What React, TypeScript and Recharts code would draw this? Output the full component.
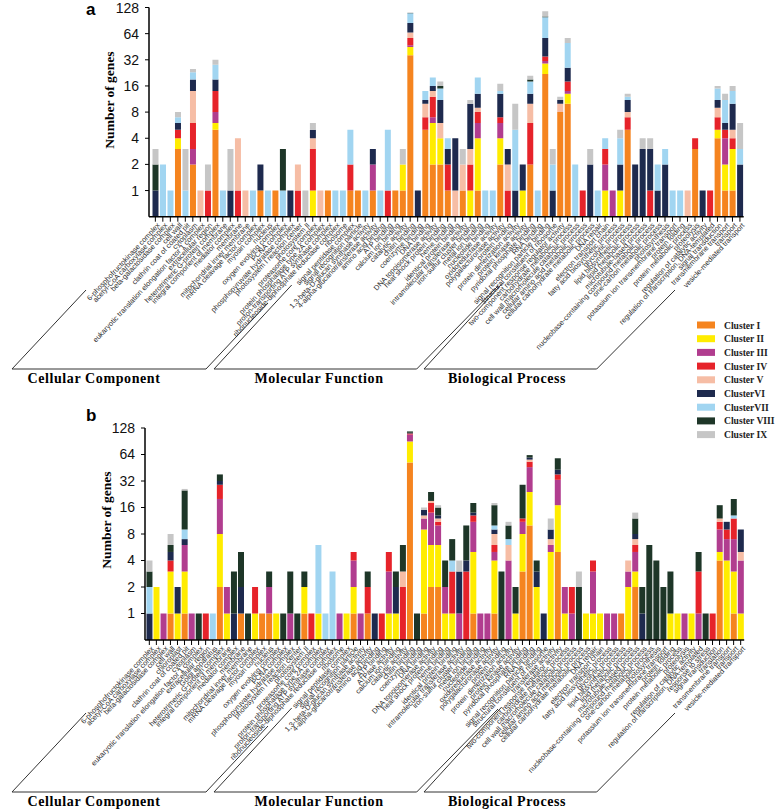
import React from "react";
import { BarChart, Bar, XAxis, YAxis } from "recharts";

const clusterNames = ["Cluster I", "Cluster II", "Cluster III", "Cluster IV", "Cluster V", "ClusterVI", "ClusterVII", "Cluster VIII", "Cluster IX"];
const clusterColors = ["#F5841F", "#FFEC00", "#B13D8F", "#E6232A", "#F6BDA5", "#1E2A4E", "#A1D5F1", "#1E3628", "#C6C6C6"];

const yTicks = [1, 2, 3, 4, 5, 6, 7, 8];
const yTickLabels = ["1", "2", "4", "8", "16", "32", "64", "128"];

// panel a categories
const labelsA = [
  "6-phosphofructokinase complex", "acetyl-CoA carboxylase complex", "beta-galactosidase complex", "cell wall",
  "clathrin coat of coated pit", "cytoplasm", "eukaryotic translation elongation factor 1 complex", "extracellular region",
  "heterotrimeric G-protein complex", "integral component of membrane", "mediator complex", "membrane",
  "mitochondrial inner membrane", "mRNA cleavage factor complex", "myosin complex", "nucleus",
  "oxygen evolving complex", "PCNA complex", "phosphopyruvate hydratase complex", "photosystem I reaction center",
  "photosystem II", "proteasome core complex", "protein phosphatase type 2A complex", "proton-transporting ATP synthase complex",
  "ribonucleoside-diphosphate reductase complex", "ribosome", "signal peptidase complex", "signal recognition particle",
  "1,3-beta-D-glucan synthase activity", "4-alpha-glucanotransferase activity", "amino acid binding", "ATP binding",
  "calcium ion binding", "catalytic activity", "chitin binding", "coenzyme binding", "DNA binding",
  "DNA topoisomerase activity", "heat shock protein binding", "heme binding", "identical protein binding",
  "intramolecular transferase activity", "iron-sulfur cluster binding", "metal ion binding", "nucleotide binding",
  "oxidoreductase activity", "polygalacturonase activity", "protein binding", "protein dimerization activity",
  "protein kinase activity", "pyridoxal phosphate binding", "RNA binding", "signal recognition particle binding",
  "structural constituent of ribosome", "two-component response regulator activity",
  "carbohydrate metabolic process", "cell wall macromolecule catabolic process", "cellular amino acid metabolic process",
  "cellular carbohydrate metabolic process", "DNA repair", "electron transport chain", "fatty acid biosynthetic process",
  "glycolytic process", "lipid biosynthetic process", "lipid metabolic process", "microtubule-based process",
  "nucleobase-containing compound metabolic process", "one-carbon metabolic process", "photosynthesis",
  "potassium ion transmembrane transport", "protein folding", "protein metabolic process", "proteolysis",
  "regulation of catalytic activity", "regulation of transcription, DNA-templated", "signal transduction",
  "transmembrane transport", "transport", "vesicle-mediated transport",
];

const aI = [0,0,0,3,0,2,0,0,5,0, 0,0,0,0,1,0,1,0,0,0, 0,0,0,1,0,0,1,1,0,1, 0,0,1,1,36,0,5,2,2,1, 0,1,0,1,0,0,2,0,0,0, 2,0,22,0,8,10,0,0,0,0, 0,0,0,5,0,0,0,0,0,0, 0,0,3,0,0,4,1,1,0];
const aII = [0,0,0,1,0,0,0,0,1,0, 0,0,0,0,0,0,0,0,0,0, 0,1,0,0,0,0,0,0,0,0, 0,0,0,1,9,0,0,4,2,0, 0,0,1,3,0,0,2,0,0,1, 0,0,7,0,0,3,0,0,0,0, 1,0,1,0,0,0,0,0,0,0, 0,0,0,0,0,1,1,2,0];
const aIII = [0,0,0,0,0,1,0,0,2,0, 0,0,0,0,0,0,0,0,0,0, 0,0,0,0,0,0,0,0,0,1, 0,0,0,0,2,0,0,1,0,0, 0,0,0,2,0,0,2,0,0,0, 0,0,2,0,0,1,0,0,0,0, 1,1,0,0,0,0,0,0,0,0, 0,0,0,0,0,0,2,0,0];
const aIV = [0,0,0,1,0,3,0,1,6,0, 0,1,0,0,0,0,0,0,0,1, 0,2,0,0,0,0,1,0,0,0, 0,1,0,0,10,0,2,5,0,1, 0,0,1,2,0,0,1,1,0,0, 4,0,4,0,0,4,0,1,0,0, 1,0,0,2,0,0,1,0,0,0, 0,0,1,0,1,2,1,1,0];
const aV = [0,0,0,0,0,8,1,0,0,0, 0,3,1,0,0,0,0,0,0,1, 0,1,1,0,0,0,0,0,0,0, 0,0,0,0,9,0,3,2,2,0, 1,1,1,1,0,0,0,1,0,0, 4,0,0,0,2,0,0,0,0,0, 0,0,0,1,0,0,0,0,0,0, 0,1,0,0,0,2,0,1,0];
const aVI = [1,0,0,1,0,5,0,0,5,0, 1,0,0,0,1,0,0,0,1,0, 0,1,0,0,0,0,0,0,0,1, 0,0,0,0,19,1,1,2,5,1, 3,0,7,4,0,0,6,1,1,1, 3,0,22,1,1,8,0,0,2,0, 0,0,1,3,2,3,2,1,2,0, 0,0,0,1,0,2,1,5,2];
const aVII = [0,2,1,1,1,4,0,0,9,1, 0,0,0,1,0,1,0,1,0,0, 0,0,0,0,1,1,3,0,1,0, 1,4,0,0,25,0,3,4,4,1, 0,0,0,7,1,1,1,0,4,0, 5,1,42,1,0,24,2,0,0,1, 1,0,2,1,0,0,0,1,1,1, 1,0,0,0,0,4,5,4,1];
const aVIII = [1,0,0,0,0,0,0,0,0,0, 0,0,0,0,0,0,0,2,0,0, 0,0,0,0,0,0,0,0,0,0, 0,0,0,0,1,0,0,0,1,0, 0,0,0,0,0,0,0,0,0,0, 1,0,2,0,0,0,0,0,0,0, 0,0,0,0,0,0,0,0,0,0, 0,0,0,0,0,0,0,0,0];
const aIX = [1,0,0,1,2,2,0,1,4,0, 2,0,0,0,0,0,0,0,0,0, 1,1,0,0,0,0,0,0,0,0, 0,0,0,1,1,0,0,0,2,0, 0,1,1,0,0,0,3,0,5,0, 2,0,15,1,1,7,0,0,1,0, 0,0,1,1,0,1,1,0,0,0, 0,0,0,0,0,1,2,2,3];

// panel b categories
const labelsB = [
  "6-phosphofructokinase complex", "acetyl-CoA carboxylase complex", "beta-galactosidase complex", "cell wall",
  "chloroplast", "clathrin coat of coated pit", "cytoplasm", "eukaryotic translation elongation factor 1 complex",
  "extracellular region", "Golgi apparatus", "heterotrimeric G-protein complex", "integral component of membrane",
  "mediator complex", "membrane", "mitochondrial inner membrane", "mRNA cleavage factor complex", "myosin complex",
  "nucleus", "oxygen evolving complex", "PCNA complex", "phosphopyruvate hydratase complex",
  "photosystem I reaction center", "photosystem II", "proteasome core complex", "protein phosphatase type 2A complex",
  "proton-transporting ATP synthase complex", "ribonucleoside-diphosphate reductase complex", "ribosome",
  "signal peptidase complex", "signal recognition particle",
  "1,3-beta-D-glucan synthase activity", "4-alpha-glucanotransferase activity", "amino acid binding", "ATP binding",
  "ATPase activity", "calcium ion binding", "catalytic activity", "chitin binding", "coenzyme binding", "DNA binding",
  "DNA topoisomerase activity", "heat shock protein binding", "heme binding", "identical protein binding",
  "intramolecular transferase activity", "iron-sulfur cluster binding", "metal ion binding", "nucleotide binding",
  "oxidoreductase activity", "polygalacturonase activity", "protein binding", "protein dimerization activity",
  "protein kinase activity", "pyridoxal phosphate binding", "RNA binding", "signal recognition particle binding",
  "structural constituent of ribosome", "transferase activity", "two-component response regulator activity",
  "carbohydrate metabolic process", "cell wall macromolecule catabolic process", "cellular amino acid metabolic process",
  "cellular carbohydrate metabolic process", "DNA repair", "electron transport chain", "fatty acid biosynthetic process",
  "glycolytic process", "lipid biosynthetic process", "lipid metabolic process", "microtubule-based process",
  "nucleobase-containing compound metabolic process", "one-carbon metabolic process", "photosynthesis",
  "potassium ion transmembrane transport", "protein folding", "protein metabolic process", "proteolysis",
  "regulation of catalytic activity", "regulation of transcription, DNA-templated", "response to stress",
  "signal transduction", "translation", "transmembrane transport", "transport", "vesicle-mediated transport",
];

const bI = [0,0,0,1,0,1,0,0,0,0, 2,0,0,1,0,0,1,1,0,0, 0,0,1,0,0,0,0,0,0,1, 0,1,0,0,0,0,0,52,0,1, 2,2,0,0,0,0,1,0,0,1, 0,0,0,3,10,0,0,0,5,0, 0,0,0,0,0,0,0,1,0,2, 0,0,0,0,0,0,0,0,0,0, 0,4,0,1,0];
const bII = [0,2,0,2,1,2,0,0,0,0, 6,1,0,0,0,1,0,0,1,0, 0,0,1,0,1,0,0,0,1,1, 0,0,0,0,1,1,0,38,0,8, 4,4,1,1,0,0,4,0,0,3, 0,0,1,5,14,2,0,5,12,1, 0,0,1,1,1,0,0,0,2,1, 0,0,0,0,1,1,0,1,0,0, 0,1,4,2,1];
const bIII = [0,0,1,0,0,3,1,0,0,0, 12,1,0,0,0,0,0,1,0,0, 1,0,0,0,0,0,0,1,0,2, 1,0,0,0,2,0,0,18,0,3, 8,4,1,0,1,0,6,1,1,1, 0,4,0,3,22,0,0,1,16,1, 1,0,0,2,0,1,1,0,1,2, 0,0,0,0,0,0,1,0,1,0, 0,4,3,4,3];
const bIV = [0,0,0,1,0,0,0,0,1,0, 9,0,0,0,0,1,0,0,0,0, 0,0,0,1,0,0,0,0,0,1, 0,1,0,1,2,0,2,3,0,0, 4,1,0,2,0,3,2,0,0,1, 0,0,0,1,7,0,0,0,5,0, 1,0,0,1,0,0,0,0,0,1, 0,0,0,0,0,0,0,0,2,0, 1,2,2,5,0];
const bV = [0,0,0,0,0,0,0,0,0,0, 0,0,0,0,0,0,0,0,0,0, 0,0,0,0,0,0,0,0,0,0, 0,0,0,0,0,0,1,0,0,1, 1,1,0,0,0,0,0,0,0,2, 0,2,0,0,3,0,0,1,0,0, 0,0,0,0,0,0,0,0,1,1, 0,0,0,0,0,0,0,0,0,0, 0,1,0,0,1];
const bVI = [1,0,0,1,1,1,0,0,0,0, 3,0,1,1,0,0,0,0,0,0, 0,0,0,0,0,0,0,0,0,0, 0,0,1,0,0,1,0,2,0,2, 0,1,0,0,2,1,1,0,0,1, 0,0,0,0,3,1,1,2,5,0, 0,0,0,0,0,0,0,0,0,1, 1,0,0,0,0,0,0,0,0,0, 0,0,2,0,4];
const bVII = [1,0,0,0,0,2,0,0,0,1, 0,0,0,0,0,0,0,0,0,0, 0,0,0,0,5,1,3,0,0,0, 0,0,0,0,0,0,0,0,0,0, 0,0,0,1,0,0,0,0,0,1, 0,1,0,0,0,0,0,0,0,0, 0,0,0,0,0,0,0,0,0,0, 0,0,0,0,0,0,0,0,0,0, 0,0,0,1,0];
const bVIII = [1,0,0,1,0,16,0,1,0,0, 6,0,2,3,1,0,0,1,0,1, 2,1,1,0,0,0,0,0,0,0, 0,1,0,0,0,1,3,4,1,0, 5,3,2,3,0,6,4,0,0,7, 3,3,1,17,4,1,0,0,15,0, 0,2,0,0,0,0,0,0,0,4, 1,6,4,2,2,0,0,0,2,1, 0,5,0,7,0];
const bIX = [1,0,0,2,0,1,0,0,0,0, 0,0,0,0,0,0,0,0,0,0, 0,0,0,0,0,0,0,0,0,0, 0,0,0,0,0,0,0,0,0,1, 0,1,0,0,1,0,0,0,0,1, 0,1,0,0,0,0,0,3,0,0, 0,1,0,0,0,0,0,0,0,2, 0,0,0,0,0,0,0,0,0,0, 0,0,0,0,0];

const groupNames = ["Cellular Component", "Molecular Function", "Biological Process"];

// log2 stacking: top of each segment sits at log2(cumulative)+1, baseline = 0.5 gene
function buildRows(labels: string[], series: number[][]) {
  return labels.map((name, i) => {
    const row: any = { name };
    let cum = 0;
    let prev = 0;
    series.forEach((s, k) => {
      cum += s[i];
      const top = cum > 0 ? Math.log2(cum) + 1 : 0;
      row["c" + k] = top - prev;
      prev = top;
    });
    return row;
  });
}

const rowsA = buildRows(labelsA, [aI, aII, aIII, aIV, aV, aVI, aVII, aVIII, aIX]);
const rowsB = buildRows(labelsB, [bI, bII, bIII, bIV, bV, bVI, bVII, bVIII, bIX]);

const CatTick = (props: any) => {
  const { x, y, payload } = props;
  return (
    <text x={x + 2} y={y} dy={5} textAnchor="end" fontSize={7.3} fontFamily="Arial" fill="#2a2a2a"
      transform={`rotate(-47, ${x}, ${y})`}>
      {payload.value}
    </text>
  );
};

function Panel({ top, height, rows, axisW, plotTop, baseline, padLeft, right, gap }: any) {
  return (
    <div style={{ position: "absolute", left: 0, top }}>
      <BarChart width={778} height={height} data={rows} barCategoryGap={gap}
        margin={{ top: plotTop, right, left: 0, bottom: 0 }}>
        <XAxis dataKey="name" interval={0} height={height - baseline} tick={<CatTick />}
          tickSize={5} tickLine={{ stroke: "#000" }} axisLine={{ stroke: "#000", strokeWidth: 1.5 }}
          padding={{ left: padLeft, right: 0 }} />
        <YAxis type="number" domain={[0, 8]} ticks={yTicks} width={axisW} allowDataOverflow
          tickFormatter={(v: number) => yTickLabels[v - 1]} tickSize={4} tickMargin={6}
          tick={{ fontSize: 14, fontFamily: "Arial", fill: "#111" }}
          tickLine={{ stroke: "#000" }} axisLine={{ stroke: "#000", strokeWidth: 1.5 }} />
        {clusterNames.map((n, k) => (
          <Bar key={n} dataKey={"c" + k} stackId="s" fill={clusterColors[k]} isAnimationActive={false} />
        ))}
      </BarChart>
    </div>
  );
}

function Brackets({ dy }: { dy: number }) {
  const serif = { fontFamily: "Liberation Serif, Times New Roman, serif", fontWeight: 700, fontSize: 14, letterSpacing: 0.6 };
  return (
    <g>
      <g stroke="#333" strokeWidth={1} fill="none">
        <polyline points={`86,${290 + dy} 12,${369 + dy} 206,${369 + dy} 268,${303 + dy}`} />
        <polyline points={`291.7,${285 + dy} 214,${369 + dy} 416.7,${369 + dy} 498,${286 + dy}`} />
        <polyline points={`501.7,${284 + dy} 424,${369 + dy} 596.7,${369 + dy} 675,${290 + dy}`} />
      </g>
      <text x={94} y={383 + dy} textAnchor="middle" {...serif}>{groupNames[0]}</text>
      <text x={319} y={383 + dy} textAnchor="middle" {...serif}>{groupNames[1]}</text>
      <text x={507} y={383 + dy} textAnchor="middle" {...serif}>{groupNames[2]}</text>
    </g>
  );
}

export default function App() {
  const serifBold = { fontFamily: "Liberation Serif, Times New Roman, serif", fontWeight: 700 };
  return (
    <div style={{ position: "absolute", left: 0, top: 0, width: 778, height: 812, background: "#fff", overflow: "hidden" }}>
      <Panel top={0} height={400} rows={rowsA} axisW={149} plotTop={7.5} baseline={216.7} padLeft={2.6} right={34.3} gap="12%" />
      <Panel top={410} height={400} rows={rowsB} axisW={145} plotTop={18} baseline={230} padLeft={0.8} right={33.8} gap="9.5%" />
      <svg width={778} height={812} style={{ position: "absolute", left: 0, top: 0, pointerEvents: "none" }}>
        <text x={86} y={15} fontFamily="Arial" fontWeight={700} fontSize={17}>a</text>
        <text x={86} y={421} fontFamily="Arial" fontWeight={700} fontSize={17}>b</text>
        <text transform="translate(114,100) rotate(-90)" textAnchor="middle" fontSize={13.5} {...serifBold}>Number of genes</text>
        <text transform="translate(111,520) rotate(-90)" textAnchor="middle" fontSize={13.5} {...serifBold}>Number of genes</text>
        <Brackets dy={0} />
        <Brackets dy={423} />
        {clusterNames.map((n, k) => (
          <g key={n}>
            <rect x={697} y={321.5 + k * 13.7} width={18} height={7} fill={clusterColors[k]} />
            <text x={724} y={328.5 + k * 13.7} fontSize={9.6} {...serifBold} fill="#222">{n}</text>
          </g>
        ))}
      </svg>
    </div>
  );
}
